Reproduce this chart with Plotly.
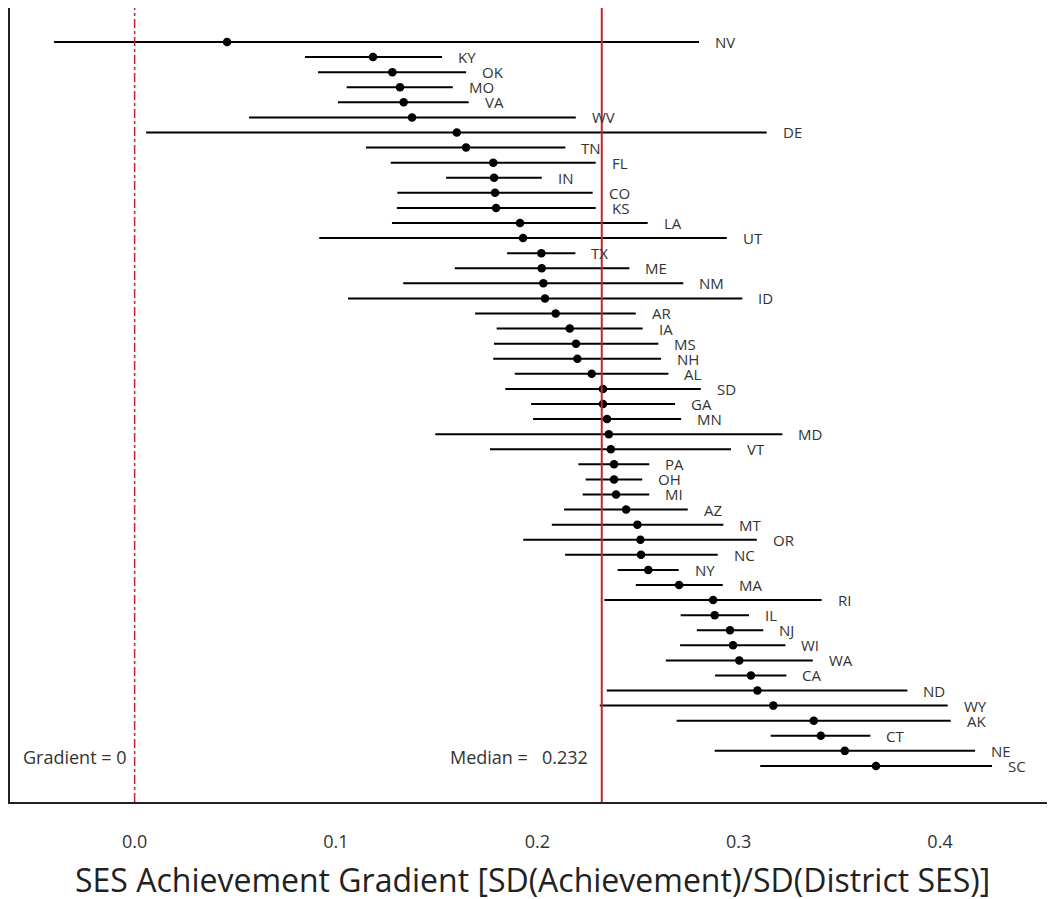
import plotly.graph_objects as go

states = ["NV","KY","OK","MO","VA","WV","DE","TN","FL","IN","CO","KS","LA","UT","TX","ME",
          "NM","ID","AR","IA","MS","NH","AL","SD","GA","MN","MD","VT","PA","OH","MI","AZ",
          "MT","OR","NC","NY","MA","RI","IL","NJ","WI","WA","CA","ND","WY","AK","CT","NE","SC"]
estimate = [0.0459,0.1184,0.1280,0.1318,0.1336,0.1378,0.1600,0.1646,0.1781,0.1785,0.1790,0.1795,
            0.1914,0.1929,0.2020,0.2022,0.2030,0.2038,0.2091,0.2161,0.2192,0.2199,0.2270,0.2326,
            0.2326,0.2346,0.2355,0.2365,0.2381,0.2381,0.2391,0.2441,0.2497,0.2512,0.2515,0.2551,
            0.2704,0.2873,0.2881,0.2957,0.2972,0.3003,0.3061,0.3093,0.3172,0.3373,0.3408,0.3527,0.3682]
lower = [-0.0400,0.0846,0.0911,0.1053,0.1010,0.0568,0.0057,0.1149,0.1272,0.1547,0.1305,0.1302,
         0.1278,0.0917,0.1850,0.1590,0.1334,0.1060,0.1691,0.1798,0.1785,0.1781,0.1888,0.1841,
         0.1969,0.1979,0.1493,0.1765,0.2204,0.2240,0.2225,0.2133,0.2072,0.1930,0.2138,0.2399,
         0.2489,0.2333,0.2712,0.2792,0.2709,0.2638,0.2883,0.2345,0.2310,0.2692,0.3159,0.2881,0.3107]
upper = [0.2803,0.1527,0.1646,0.1580,0.1659,0.2191,0.3139,0.2139,0.2290,0.2022,0.2275,0.2290,
         0.2548,0.2941,0.2189,0.2457,0.2725,0.3018,0.2489,0.2523,0.2601,0.2614,0.2651,0.2812,
         0.2684,0.2714,0.3217,0.2962,0.2556,0.2521,0.2556,0.2747,0.2924,0.3090,0.2896,0.2702,
         0.2921,0.3412,0.3051,0.3122,0.3232,0.3368,0.3237,0.3838,0.4038,0.4053,0.3654,0.4174,0.4258]
median_value = 0.232
tick_values = [0.0, 0.1, 0.2, 0.3, 0.4]
tick_text = ["0.0", "0.1", "0.2", "0.3", "0.4"]

FONT = "Open Sans"
TEXT = "#333333"
rows = list(range(len(states)))

fig = go.Figure()
fig.add_trace(go.Scatter(
    x=estimate, y=rows, mode="markers",
    marker=dict(color="black", size=8.5),
    error_x=dict(type="data", symmetric=False,
                 array=[u - e for u, e in zip(upper, estimate)],
                 arrayminus=[e - l for e, l in zip(estimate, lower)],
                 color="black", thickness=2, width=0),
    showlegend=False, hoverinfo="skip"))

# reference lines
fig.add_shape(type="line", x0=0, x1=0, y0=0, y1=1, yref="paper", xref="x",
              line=dict(color="#C8202A", width=1.5, dash="dashdot"))
fig.add_shape(type="line", x0=median_value, x1=median_value, y0=0, y1=1, yref="paper", xref="x",
              line=dict(color="#C0262D", width=2))

# state labels
for s, u, r in zip(states, upper, rows):
    fig.add_annotation(x=u, y=r, text=s, showarrow=False, xanchor="left", xshift=14,
                       font=dict(family=FONT, size=15, color=TEXT))

fig.add_annotation(x=0, y=47.4, text="Gradient = 0", showarrow=False, xanchor="right", xshift=-6,
                   font=dict(family=FONT, size=18, color=TEXT))
fig.add_annotation(x=median_value, y=47.4, text="Median =   %.3f" % median_value, showarrow=False,
                   xanchor="right", xshift=-12, font=dict(family=FONT, size=18, color=TEXT))

fig.add_annotation(x=0.5, xref="paper", y=-0.098, yref="paper", yanchor="middle",
                   text="SES Achievement Gradient [SD(Achievement)/SD(District SES)]",
                   showarrow=False, font=dict(family=FONT, size=32, color="#222222"))

fig.update_xaxes(range=[-0.0619, 0.4571], tickvals=tick_values, ticktext=tick_text,
                 showgrid=False, zeroline=False, showline=True, linecolor="#222222", linewidth=2,
                 ticks="", ticklabelstandoff=22,
                 tickfont=dict(family=FONT, size=18, color=TEXT))
fig.update_yaxes(range=[50.39, -2.254], showticklabels=False, showgrid=False, zeroline=False,
                 showline=True, linecolor="#222222", linewidth=2, ticks="")

fig.update_layout(width=1047, height=891, plot_bgcolor="white", paper_bgcolor="white",
                  margin=dict(l=2, r=0, t=0, b=97), font=dict(family=FONT))
fig.write_html("out.html")
